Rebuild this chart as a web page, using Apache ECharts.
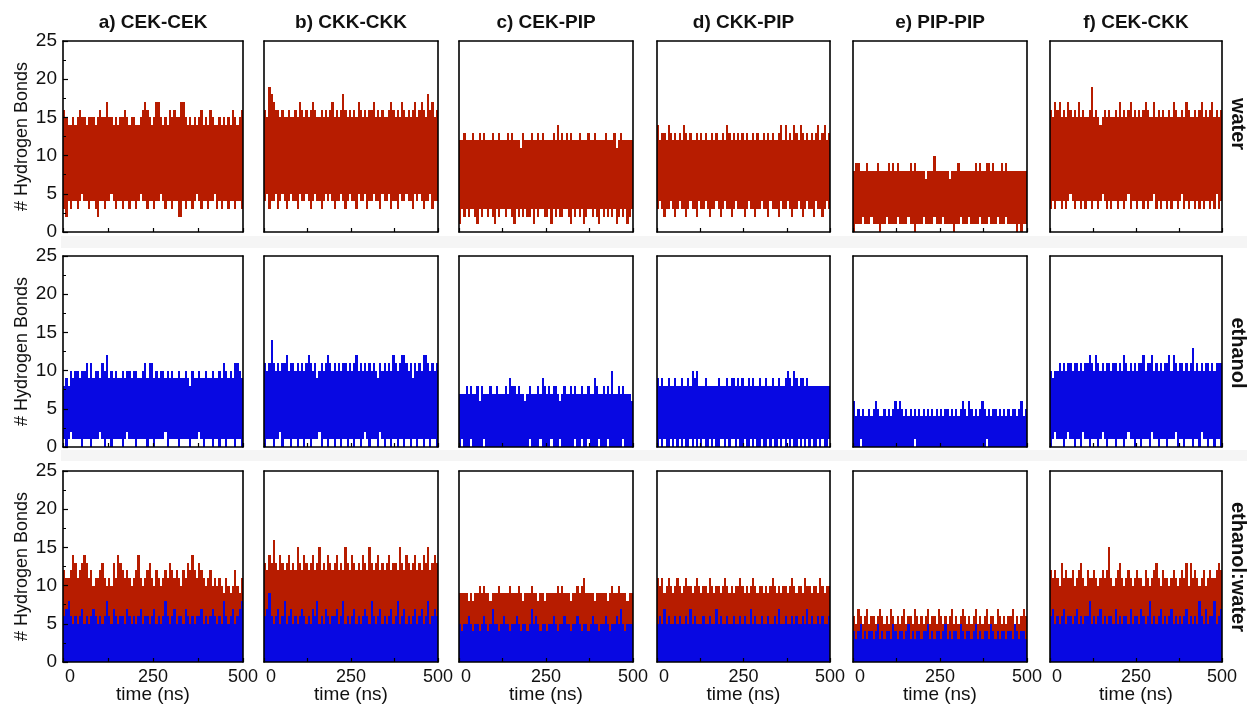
<!DOCTYPE html>
<html>
<head>
<meta charset="utf-8">
<script src="https://cdn.jsdelivr.net/npm/echarts@6/dist/echarts.min.js"></script>
<style>
  html, body { margin: 0; background: #fff; }
  #chart { width: 1247px; height: 705px; }
</style>
</head>
<body>
<div id="chart"></div>
<script>
// labels
const pairNames = ['a) CEK-CEK', 'b) CKK-CKK', 'c) CEK-PIP', 'd) CKK-PIP', 'e) PIP-PIP', 'f) CEK-CKK'];
const solventNames = ['water', 'ethanol', 'ethanol:water'];
const timeTicks = [0, 250, 500];
const timeMax = 500;

// number of H-bonds, 80 time bins per run: upper (hi) and lower (lo) value in each bin
// water
const hiWaterA = [16,15,14,14,15,14,15,16,15,15, 14,15,15,15,14,15,16,15,15,17, 15,15,14,15,14,15,15,16,15,14, 15,15,14,14,15,16,17,16,15,14,
                  15,17,17,15,14,15,14,16,15,16, 15,15,17,17,15,14,15,14,15,14, 15,16,14,15,14,16,15,14,14,15, 14,15,14,15,14,16,15,14,15,16];
const loWaterA = [3,2,4,3,4,4,3,4,5,4, 4,3,4,4,3,2,4,4,3,4, 4,5,4,3,4,4,3,4,4,3, 4,4,3,4,5,4,4,3,4,4,
                  3,4,4,5,4,3,4,4,3,4, 4,2,2,4,3,4,4,3,4,5, 4,3,4,4,3,4,4,5,3,4, 3,4,4,3,4,4,3,4,4,3];
const hiWaterB = [16,15,19,18,17,16,16,15,16,15, 15,16,15,15,16,15,17,16,15,16, 15,16,17,16,15,15,16,15,16,15, 16,17,15,16,15,16,18,16,15,16,
                  15,16,15,17,16,15,16,15,16,16, 17,15,16,15,16,15,15,16,17,16, 15,16,15,17,16,15,16,15,16,17, 15,16,17,16,15,18,16,17,15,16];
const loWaterB = [4,5,3,4,4,5,3,4,5,4, 3,4,5,4,4,3,5,4,4,5, 4,3,4,5,4,4,3,4,5,4, 5,4,3,4,4,5,4,3,4,5,
                  4,4,3,5,4,4,5,3,4,4, 5,4,4,3,5,4,4,5,3,4, 4,3,5,4,4,5,4,4,3,5, 4,5,4,3,4,4,5,3,4,4];
const hiWaterC = [12,12,13,12,12,12,13,12,12,13, 12,13,12,12,12,13,12,12,13,12, 12,12,13,12,13,12,12,12,11,13, 12,12,12,13,12,12,13,12,13,12,
                  12,12,12,13,12,14,12,13,12,13, 12,13,12,12,12,13,12,12,12,13, 12,12,13,12,12,12,12,13,12,12, 12,13,11,12,13,12,12,12,12,12];
const loWaterC = [1,3,2,3,2,3,3,2,1,3, 2,3,3,2,3,2,1,3,2,3, 3,2,3,3,2,1,3,2,3,2, 3,2,2,3,1,3,2,3,3,2,
                  2,3,1,3,2,3,2,2,3,3, 2,1,3,2,3,2,3,1,2,3, 3,2,3,2,1,3,2,3,2,3, 2,3,1,2,3,2,3,1,2,3];
const hiWaterD = [14,12,13,13,12,14,13,12,13,12, 13,12,14,13,12,13,12,12,13,12, 13,12,13,12,12,13,12,13,12,12, 13,12,14,13,12,13,12,13,12,13,
                  12,13,12,12,13,12,13,12,12,13, 12,13,12,13,12,12,13,14,12,14, 12,13,12,14,13,12,14,13,12,13, 12,13,12,13,14,12,13,14,12,13];
const loWaterD = [3,4,3,2,3,3,4,3,2,3, 4,3,3,2,3,4,3,3,2,4, 3,3,4,3,2,3,3,4,3,2, 3,4,3,3,2,3,4,3,3,3,
                  2,3,4,3,3,2,3,3,4,3, 3,2,4,3,3,3,2,4,3,3, 4,3,2,3,3,4,3,2,3,4, 3,3,2,4,3,3,2,3,4,3];
const hiWaterE = [8,9,9,8,8,8,9,8,8,8, 8,9,8,8,8,8,9,8,9,8, 9,8,8,8,8,8,9,8,9,8, 8,8,8,7,8,8,8,10,8,8,
                  8,8,8,8,7,8,8,8,9,8, 8,8,8,8,8,8,9,8,9,8, 8,9,9,8,9,8,8,8,9,8, 9,8,8,8,8,8,8,8,8,8];
const loWaterE = [0,1,1,1,2,1,1,1,2,1, 1,1,0,1,1,2,1,1,1,1, 2,1,1,1,1,2,1,1,0,1, 1,1,2,1,1,1,1,2,1,1,
                  1,2,1,1,1,1,0,1,1,2, 1,1,1,2,1,1,1,1,2,1, 1,1,2,1,1,1,2,1,1,1, 2,1,1,1,1,0,1,0,1,1];
const hiWaterF = [16,15,17,16,17,15,16,15,17,16, 15,16,15,17,15,16,15,15,16,19, 15,16,15,14,15,16,15,16,15,15, 16,15,17,15,16,15,16,17,15,16,
                  15,16,15,16,17,16,15,15,17,15, 16,15,16,15,15,16,15,17,16,15, 15,16,15,17,16,15,15,16,15,16, 17,15,16,15,16,17,15,16,15,16];
const loWaterF = [3,4,3,4,4,3,4,3,4,5, 4,3,4,4,3,4,3,4,4,3, 4,4,3,4,5,4,3,4,3,4, 4,3,4,4,3,4,5,3,4,4,
                  3,4,4,3,4,3,4,4,5,3, 4,3,4,4,3,4,3,4,4,3, 4,5,3,4,3,4,4,3,4,3, 4,3,4,4,3,4,3,5,3,4];
// ethanol
const hiEthA = [8,9,8,10,9,10,10,9,10,10, 11,9,11,9,10,10,9,11,10,12, 9,10,9,10,9,9,10,9,10,10, 9,10,10,9,9,10,11,9,11,11,
                9,10,9,10,10,9,10,9,10,9, 9,10,9,9,10,9,8,10,9,9, 10,9,9,10,9,9,10,9,9,10, 9,11,10,9,10,9,11,11,10,9];
const loEthA = [1,0,1,2,1,1,1,1,0,1, 1,1,0,1,1,1,2,1,0,1, 1,0,1,1,1,1,0,1,2,1, 1,1,0,1,1,1,1,0,1,1,
                0,1,1,1,1,2,0,1,1,1, 1,0,1,1,1,1,0,1,1,1, 2,1,0,1,1,1,0,1,1,0, 1,1,0,1,1,1,0,1,1,0];
const hiEthB = [11,10,11,14,11,10,11,10,11,11, 12,10,11,11,10,11,10,11,10,11, 12,11,10,11,9,10,11,10,11,12, 11,10,11,10,11,10,11,11,10,11,
                10,11,12,10,11,10,11,10,11,10, 11,10,9,11,10,11,10,11,10,12, 11,10,11,12,12,11,10,11,9,11, 10,11,10,12,12,11,10,11,10,11];
const loEthB = [0,1,1,1,0,1,1,2,0,1, 1,1,0,1,1,0,1,1,0,1, 1,0,1,1,1,2,0,1,1,0, 1,1,0,1,1,0,1,1,0,1,
                1,0,1,1,0,1,2,1,0,1, 1,1,0,2,1,0,1,1,0,1, 1,0,1,1,0,1,1,0,1,1, 0,1,1,0,1,1,0,1,1,0];
const hiEthC = [7,7,7,8,7,8,7,7,8,6, 8,7,7,7,8,7,7,8,7,7, 7,8,7,9,8,8,7,8,7,7, 6,7,8,7,7,7,8,7,9,8,
                7,8,7,8,8,7,6,7,8,7, 7,8,7,8,7,7,8,7,7,8, 7,7,9,8,7,7,8,7,8,7, 10,7,7,8,7,8,7,7,7,6];
const loEthC = [0,1,0,0,0,1,0,0,0,0, 0,1,0,0,0,0,0,0,0,0, 0,0,0,0,0,0,0,0,0,0, 0,0,1,0,0,0,0,1,0,0,
                0,0,1,0,0,0,1,0,0,0, 0,0,0,1,0,0,1,0,0,1, 0,0,0,0,1,0,0,0,1,0, 0,0,0,0,0,1,0,0,0,0];
const hiEthD = [9,8,9,8,8,9,8,8,9,8, 8,9,8,8,9,8,10,9,10,8, 8,8,9,8,8,8,8,8,9,8, 8,8,9,8,9,9,8,9,8,9,
                8,8,9,8,9,8,8,9,8,8, 9,8,8,9,8,8,9,8,8,9, 10,9,8,10,9,8,9,9,8,9, 8,8,8,8,8,8,8,8,8,8];
const loEthD = [0,1,0,1,0,0,1,0,1,0, 1,0,1,0,0,1,0,1,0,1, 0,1,0,0,1,0,1,0,0,1, 1,0,1,0,1,1,0,1,0,0,
                1,0,0,1,0,1,0,0,1,0, 0,1,0,1,0,0,1,0,1,0, 1,0,1,0,0,1,0,1,0,1, 0,1,0,0,1,0,1,0,0,1];
const hiEthE = [6,4,5,4,5,4,4,5,4,5, 6,5,4,4,5,4,5,4,5,6, 5,6,5,4,5,4,5,4,5,4, 5,4,5,4,5,4,5,4,5,4,
                5,4,5,5,4,5,4,5,4,5, 6,5,4,6,5,4,5,4,5,6, 5,4,5,4,5,5,4,5,4,5, 4,5,4,5,5,4,5,6,4,5];
const loEthE = [0,0,0,1,0,0,0,0,0,0, 0,0,0,0,0,0,0,0,0,0, 0,0,0,0,0,0,0,0,1,0, 0,0,0,0,0,0,0,0,0,0,
                0,0,0,0,0,0,0,0,0,0, 0,0,0,0,0,0,0,0,0,0, 0,1,0,0,0,0,0,0,0,0, 0,0,0,0,0,0,0,0,0,0];
const hiEthF = [10,9,10,10,11,10,11,10,11,11, 10,11,11,10,11,10,11,11,12,11, 10,12,11,10,11,10,11,11,10,11, 11,10,11,10,12,11,10,11,10,11,
                10,11,11,12,10,11,11,12,10,11, 10,11,10,11,11,12,10,12,11,10, 11,11,10,11,10,11,13,10,11,10, 11,10,11,11,10,11,10,11,11,11];
const loEthF = [0,1,2,1,1,1,0,1,2,1, 1,0,1,1,0,2,1,1,0,1, 1,1,0,1,2,1,0,1,1,1, 0,1,1,1,0,1,2,1,1,0,
                1,1,0,1,1,1,0,2,1,1, 0,1,1,1,0,1,1,1,2,0, 1,1,0,1,1,1,0,1,1,0, 2,1,1,0,1,1,0,1,1,0];
// ethanol:water, upper value per bin (red = all bonds, blue = ethanol part)
const redMixA = [12,11,11,12,14,13,11,12,13,14, 13,11,12,10,11,11,12,13,11,10, 11,10,13,11,14,13,12,11,12,11, 10,11,12,14,11,10,11,12,13,11,
                 10,12,11,10,11,12,11,13,12,11, 12,11,10,12,11,13,12,14,12,11, 13,12,11,10,11,12,10,11,10,11, 10,9,11,10,9,10,12,10,9,11];
const blueMixA = [6,7,8,6,5,6,5,6,7,5, 6,5,6,7,6,5,6,5,6,8, 6,5,7,6,5,6,6,5,7,6, 5,6,5,6,7,5,6,6,5,6,
                  7,5,6,5,6,8,6,5,6,7, 5,6,6,5,7,6,5,6,5,6, 6,7,5,6,5,6,7,6,5,6, 5,8,6,5,6,7,5,6,7,8];
const redMixB = [13,12,14,13,16,13,12,14,13,12, 13,14,12,13,12,15,13,12,14,13, 12,13,14,12,13,15,12,13,12,14, 13,12,13,14,12,13,12,15,13,12,
                 14,13,12,13,12,14,13,12,15,13, 12,13,14,12,13,12,13,14,12,13, 13,12,15,13,12,14,13,12,13,14, 12,13,12,14,13,15,12,13,14,13];
const blueMixB = [6,7,9,6,5,6,7,5,6,8, 5,6,7,5,6,5,6,7,6,5, 6,5,7,6,8,5,6,5,7,6, 5,6,6,7,5,6,8,5,6,5,
                  6,7,5,6,5,6,7,6,5,8, 6,5,6,7,5,6,5,6,7,5, 6,8,5,6,7,5,6,5,6,7, 5,6,7,5,6,8,5,6,7,6];
const redMixC = [9,9,9,9,8,9,8,9,9,10, 9,10,9,9,8,9,9,9,10,9, 9,9,9,10,9,9,9,10,9,8, 9,9,9,10,9,9,8,9,9,8,
                 9,9,9,9,9,10,9,10,9,9, 9,8,9,9,10,9,10,11,9,9, 9,9,8,9,9,9,9,9,8,9, 10,9,9,10,9,9,9,8,9,9];
const blueMixC = [5,4,5,5,6,5,4,5,5,4, 5,6,5,4,5,7,5,5,4,5, 6,5,5,4,5,5,6,5,4,5, 5,4,5,7,5,6,5,4,5,5,
                  4,5,5,6,5,4,5,5,6,5, 5,4,5,5,6,5,4,5,5,4, 5,6,5,5,4,5,5,6,5,4, 5,5,6,5,7,5,4,5,5,5];
const redMixD = [11,10,11,9,10,11,10,9,10,11, 10,9,10,11,10,10,9,10,11,10, 9,10,10,9,11,10,9,10,10,9, 10,11,10,9,10,9,10,10,11,10,
                 9,10,9,10,11,10,9,10,10,9, 10,9,10,11,10,9,10,9,10,10, 9,10,11,10,9,10,10,9,11,10, 10,9,10,10,9,11,10,9,10,10];
const blueMixD = [5,6,5,7,5,6,5,5,6,5, 6,5,5,6,5,7,5,6,5,5, 5,6,5,5,6,5,5,7,5,6, 5,5,6,5,5,6,5,5,6,5,
                  6,5,5,7,5,6,5,5,6,5, 5,6,5,5,6,5,7,5,5,6, 5,5,6,5,6,5,5,6,5,7, 5,6,5,5,6,5,6,5,5,6];
const redMixE = [6,5,7,6,5,6,7,5,6,6, 5,6,7,6,5,6,5,7,6,5, 6,5,6,7,5,6,6,5,7,6, 5,6,5,6,7,5,6,6,5,7,
                 6,5,6,5,6,7,5,6,5,6, 7,6,5,6,5,6,7,5,6,5, 6,7,5,6,6,5,7,6,5,6, 5,6,6,7,5,6,5,6,7,6];
const blueMixE = [4,3,4,5,3,4,3,4,4,3, 4,5,3,4,3,4,4,3,5,4, 3,4,4,3,4,5,3,4,3,4, 4,3,4,4,5,3,4,3,4,4,
                  3,4,5,3,4,3,4,4,3,5, 4,3,4,4,3,4,5,3,4,3, 4,4,3,5,4,3,4,3,4,4, 3,4,4,3,5,4,3,4,4,3];
const redMixF = [12,11,12,11,10,13,11,12,11,11, 12,10,11,12,13,11,10,12,11,11, 12,11,10,11,12,11,12,15,11,10, 11,12,13,11,10,11,12,11,10,11,
                 12,11,11,10,12,11,10,11,12,13, 11,10,12,11,11,10,11,12,11,10, 11,12,11,13,10,13,11,12,11,10, 11,12,10,11,12,11,11,12,13,12];
const blueMixF = [6,7,5,6,5,6,7,5,6,6, 5,6,7,5,6,5,6,6,8,5, 6,5,6,7,5,6,5,6,6,5, 7,5,6,5,6,6,5,7,5,6,
                  6,5,7,6,5,6,8,5,6,5, 6,7,5,6,5,6,7,5,6,5, 6,5,6,7,5,6,5,6,5,8, 6,5,7,5,6,6,8,5,6,7];

const RED = '#b71c00';
const BLUE = '#0808e2';
const FONT = 'Liberation Sans, Arial, sans-serif';

// panel geometry in pixels
const colLeft = [63, 264, 459, 657, 853, 1050];
const colWidth = [180, 174, 174, 173, 174, 172];
const rowTop = [41, 256, 471];
const rowHeight = 191;

const layers = [
  [[hiWaterA, loWaterA, RED]], [[hiWaterB, loWaterB, RED]], [[hiWaterC, loWaterC, RED]],
  [[hiWaterD, loWaterD, RED]], [[hiWaterE, loWaterE, RED]], [[hiWaterF, loWaterF, RED]],
  [[hiEthA, loEthA, BLUE]], [[hiEthB, loEthB, BLUE]], [[hiEthC, loEthC, BLUE]],
  [[hiEthD, loEthD, BLUE]], [[hiEthE, loEthE, BLUE]], [[hiEthF, loEthF, BLUE]],
  [[redMixA, null, RED], [blueMixA, null, BLUE]], [[redMixB, null, RED], [blueMixB, null, BLUE]],
  [[redMixC, null, RED], [blueMixC, null, BLUE]], [[redMixD, null, RED], [blueMixD, null, BLUE]],
  [[redMixE, null, RED], [blueMixE, null, BLUE]], [[redMixF, null, RED], [blueMixF, null, BLUE]]
];

function toBins(hi, lo) {
  const w = timeMax / hi.length;
  return hi.map((h, i) => [i * w, (i + 1) * w, lo ? lo[i] : 0, h]);
}

// one bin = one rect from lo to hi, snapped to whole pixels so neighbours join cleanly
function renderBin(params, api) {
  const a = api.coord([api.value(0), api.value(3)]);
  const b = api.coord([api.value(1), api.value(2)]);
  const x0 = Math.round(a[0]), x1 = Math.round(b[0]);
  const y0 = Math.round(a[1]), y1 = Math.round(b[1]);
  return {
    type: 'rect',
    shape: { x: x0, y: y0, width: Math.max(1, x1 - x0), height: y1 - y0 },
    style: { fill: api.visual('color') }
  };
}

const grid = [], xAxis = [], yAxis = [], series = [];
for (let r = 0; r < 3; r++) {
  for (let c = 0; c < 6; c++) {
    const k = r * 6 + c;
    grid.push({ left: colLeft[c], top: rowTop[r], width: colWidth[c], height: rowHeight });
    const line = { onZero: false, lineStyle: { color: '#000', width: 1.6 } };
    xAxis.push({
      gridIndex: k, type: 'value', min: 0, max: timeMax, interval: 125, z: 5,
      axisLine: line,
      axisTick: { inside: true, length: 4, lineStyle: { color: '#000', width: 1.2 } },
      splitLine: { show: false },
      axisLabel: {
        show: r === 2, fontSize: 18, color: '#111', fontFamily: FONT, margin: 6,
        formatter: v => timeTicks.includes(v) ? (v === 0 ? '{z|0}' : String(v)) : '',
        rich: { z: { fontSize: 18, color: '#111', fontFamily: FONT, padding: [0, 0, 0, 14] } }
      }
    });
    xAxis.push({
      gridIndex: k, type: 'value', position: 'top', min: 0, max: timeMax, z: 5,
      axisLine: line, axisTick: { show: false }, axisLabel: { show: false }, splitLine: { show: false }
    });
    yAxis.push({
      gridIndex: k, type: 'value', min: 0, max: 25, interval: 5, z: 5,
      axisLine: line,
      axisTick: { show: c === 0, inside: true, length: 5, lineStyle: { color: '#000', width: 1.2 } },
      minorTick: { show: c === 0, splitNumber: 2, length: 3, lineStyle: { color: '#000', width: 1 } },
      splitLine: { show: false },
      axisLabel: { show: c === 0, fontSize: 19, color: '#111', fontFamily: FONT, margin: 6 }
    });
    yAxis.push({
      gridIndex: k, type: 'value', position: 'right', min: 0, max: 25, z: 5,
      axisLine: line, axisTick: { show: false }, axisLabel: { show: false }, splitLine: { show: false }
    });
    layers[k].forEach(([hi, lo, color]) => {
      series.push({
        type: 'custom', xAxisIndex: 2 * k, yAxisIndex: 2 * k, clip: true,
        itemStyle: { color: color },
        encode: { x: [0, 1], y: [2, 3] },
        renderItem: renderBin,
        data: toBins(hi, lo)
      });
    });
  }
}

const graphic = [];
// light separator strips between rows
[[236, 12], [450, 11]].forEach(([y, h]) => {
  graphic.push({ type: 'rect', shape: { x: 61, y: y, width: 1186, height: h }, style: { fill: '#f5f5f5' }, z: -1 });
});
pairNames.forEach((t, c) => {
  graphic.push({
    type: 'text', x: colLeft[c] + colWidth[c] / 2, y: 23,
    style: { text: t, fontSize: 19, fontWeight: 'bold', fontFamily: FONT, fill: '#111', align: 'center', verticalAlign: 'middle' }
  });
  graphic.push({
    type: 'text', x: colLeft[c] + colWidth[c] / 2, y: 695,
    style: { text: 'time (ns)', fontSize: 19, fontFamily: FONT, fill: '#111', align: 'center', verticalAlign: 'middle' }
  });
});
const labelY = [124, 353, 567];
solventNames.forEach((t, r) => {
  graphic.push({
    type: 'text', x: 1238, y: labelY[r], rotation: -Math.PI / 2,
    style: { text: t, fontSize: 20, fontWeight: 'bold', fontFamily: FONT, fill: '#111', align: 'center', verticalAlign: 'middle' }
  });
  graphic.push({
    type: 'text', x: 22, y: rowTop[r] + rowHeight / 2, rotation: Math.PI / 2,
    style: { text: '# Hydrogen Bonds', fontSize: 18, fontFamily: FONT, fill: '#111', align: 'center', verticalAlign: 'middle' }
  });
});

const chart = echarts.init(document.getElementById('chart'));
chart.setOption({
  animation: false,
  backgroundColor: '#fff',
  grid: grid,
  xAxis: xAxis,
  yAxis: yAxis,
  series: series,
  graphic: graphic
});
</script>
</body>
</html>
